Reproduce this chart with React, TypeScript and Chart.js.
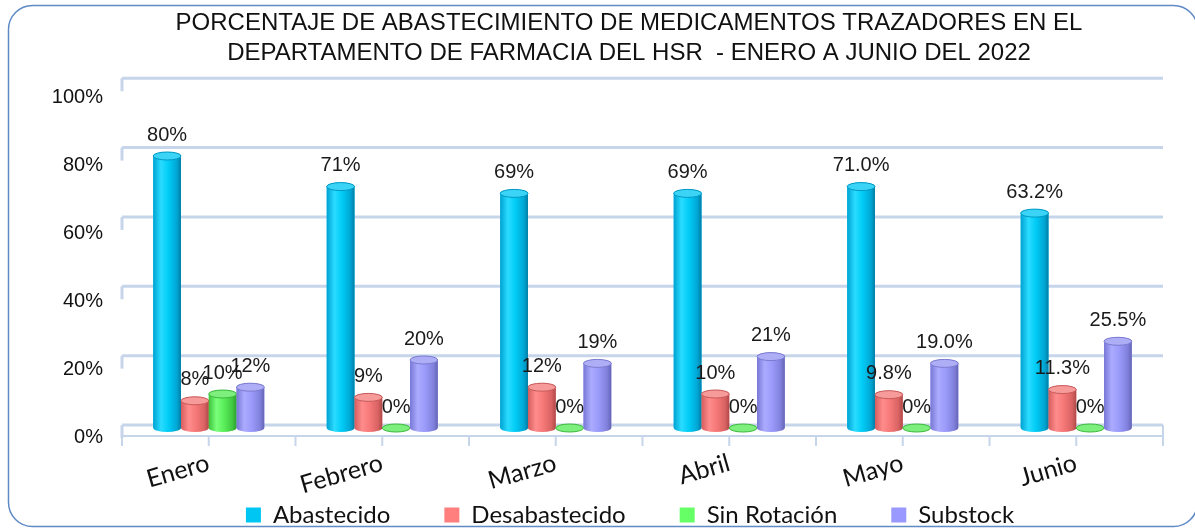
import React, { useEffect, useRef } from "react";
import { Chart, registerables } from "chart.js";

Chart.register(...registerables);

// ---- DATA ----
const categories = ["Enero", "Febrero", "Marzo", "Abril", "Mayo", "Junio"];
const seriesNames = ["Abastecido", "Desabastecido", "Sin Rotación", "Substock"];
const abastecido = [80, 71, 69, 69, 71.0, 63.2];
const desabastecido = [8, 9, 12, 10, 9.8, 11.3];
const sinRotacion = [10, 0, 0, 0, 0, 0];
const substock = [12, 20, 19, 21, 19.0, 25.5];
const abastecidoLabels = ["80%", "71%", "69%", "69%", "71.0%", "63.2%"];
const desabastecidoLabels = ["8%", "9%", "12%", "10%", "9.8%", "11.3%"];
const sinRotacionLabels = ["10%", "0%", "0%", "0%", "0%", "0%"];
const substockLabels = ["12%", "20%", "19%", "21%", "19.0%", "25.5%"];
const yTicks = [0, 20, 40, 60, 80, 100];
const titleLines = [
  "PORCENTAJE DE ABASTECIMIENTO DE MEDICAMENTOS TRAZADORES EN EL",
  "DEPARTAMENTO DE FARMACIA DEL HSR  - ENERO A JUNIO DEL 2022",
];

// ---- STYLE ----
const W = 1195;
const H = 537;
const legendPadding = 54;
const legendFont = 24;
const legendHeight = Math.max(legendFont, 15) + legendPadding + 10;

type Pal = { base: string; stops: string[]; cap: string; capStroke: string };
const palettes: Pal[] = [
  { base: "#00c6f4", stops: ["#00a2d2", "#2adcff", "#00ccf6", "#00a6d4", "#007ea6"], cap: "#3cd4f6", capStroke: "#0098c4" },
  { base: "#ff7f7f", stops: ["#d65c5c", "#ff8c8c", "#f67878", "#d86262", "#b04848"], cap: "#f79a9a", capStroke: "#c85a5a" },
  { base: "#66ff66", stops: ["#3cc23c", "#7aff7a", "#5aee5a", "#40c840", "#2ea02e"], cap: "#7cef7c", capStroke: "#3cb83c" },
  { base: "#9999ff", stops: ["#7878d6", "#ababff", "#9a9afa", "#8080dc", "#6464b4"], cap: "#aeaef6", capStroke: "#7a7ad0" },
];
const valueLabels = [abastecidoLabels, desabastecidoLabels, sinRotacionLabels, substockLabels];

function drawCylinder(ctx: CanvasRenderingContext2D, x: number, top: number, base: number, w: number, p: Pal) {
  const rx = w / 2;
  const ry = 4;
  const left = x - rx;
  if (base - top > 0.5) {
    const g = ctx.createLinearGradient(left, 0, left + w, 0);
    const pos = [0, 0.28, 0.55, 0.85, 1];
    p.stops.forEach((c, i) => g.addColorStop(pos[i], c));
    ctx.beginPath();
    ctx.moveTo(left, top);
    ctx.lineTo(left, base);
    ctx.ellipse(x, base, rx, ry, 0, Math.PI, 0, true);
    ctx.lineTo(left + w, top);
    ctx.ellipse(x, top, rx, ry, 0, 0, Math.PI, true);
    ctx.closePath();
    ctx.fillStyle = g;
    ctx.fill();
  }
  ctx.beginPath();
  ctx.ellipse(x, top, rx, ry, 0, 0, Math.PI * 2);
  ctx.fillStyle = p.cap;
  ctx.fill();
  ctx.lineWidth = 1;
  ctx.strokeStyle = p.capStroke;
  ctx.stroke();
}

// let the axis labels draw outside the (forced) axis boxes
const layoutPlugin = {
  id: "layoutFix",
  afterLayout(chart: any) {
    const xs = chart.scales.x;
    xs.bottom = chart.height;
    xs.height = xs.bottom - xs.top;
    const ys = chart.scales.y;
    ys.left = 0;
    ys.width = ys.right - ys.left;
  },
};

const framePlugin = {
  id: "frame",
  beforeDraw(chart: any) {
    const { ctx, chartArea, scales } = chart;
    const ys = scales.y;
    ctx.save();
    ctx.fillStyle = "#ffffff";
    ctx.fillRect(0, 0, chart.width, chart.height);

    // rounded outer border
    const bx = 8.5, by = 5.5, bw = 1189, bh = 521, r = 24;
    ctx.beginPath();
    ctx.moveTo(bx + r, by);
    ctx.lineTo(bx + bw - r, by);
    ctx.arcTo(bx + bw, by, bx + bw, by + r, r);
    ctx.lineTo(bx + bw, by + bh - r);
    ctx.arcTo(bx + bw, by + bh, bx + bw - r, by + bh, r);
    ctx.lineTo(bx + r, by + bh);
    ctx.arcTo(bx, by + bh, bx, by + bh - r, r);
    ctx.lineTo(bx, by + r);
    ctx.arcTo(bx, by, bx + r, by, r);
    ctx.closePath();
    ctx.strokeStyle = "#5f8ac6";
    ctx.lineWidth = 1.5;
    ctx.stroke();

    // title
    ctx.fillStyle = "#111111";
    ctx.font = '24px "Liberation Sans", Arial, sans-serif';
    ctx.textAlign = "center";
    ctx.textBaseline = "middle";
    ctx.fillText(titleLines[0], 629, 23);
    ctx.fillText(titleLines[1], 629, 53);

    // back wall gridlines
    const y0 = ys.getPixelForValue(0);
    const wallBase = y0 - 3;
    ctx.strokeStyle = "#c6d5ea";
    ctx.lineWidth = 3;
    for (const v of yTicks) {
      const gy = wallBase - (y0 - ys.getPixelForValue(v)) * 1.02;
      ctx.beginPath();
      ctx.moveTo(chartArea.left, gy);
      ctx.lineTo(chartArea.right, gy);
      ctx.stroke();
      ctx.beginPath();
      ctx.moveTo(chartArea.left, gy);
      ctx.lineTo(chartArea.left, gy + 13);
      ctx.stroke();
    }
    // floor front edge and tick marks
    const fy = y0 + 8;
    ctx.lineWidth = 2;
    ctx.beginPath();
    ctx.moveTo(chartArea.left, fy);
    ctx.lineTo(chartArea.right, fy);
    ctx.stroke();
    const n = categories.length * 2;
    const step = (chartArea.right - chartArea.left) / n;
    for (let k = 0; k <= n; k++) {
      const tx = chartArea.left + k * step;
      ctx.beginPath();
      ctx.moveTo(tx, fy);
      ctx.lineTo(tx, fy + 10);
      ctx.stroke();
    }
    ctx.beginPath();
    ctx.moveTo(chartArea.right, wallBase);
    ctx.lineTo(chartArea.right, fy);
    ctx.stroke();
    ctx.restore();
  },
};

const cylinderPlugin = {
  id: "cylinders",
  afterDatasetsDraw(chart: any) {
    const { ctx } = chart;
    ctx.save();
    chart.data.datasets.forEach((_ds: any, i: number) => {
      const meta = chart.getDatasetMeta(i);
      meta.data.forEach((el: any) => {
        const { x, y, base, width } = el.getProps(["x", "y", "base", "width"], true);
        drawCylinder(ctx, x, y, base, width, palettes[i]);
      });
    });
    ctx.fillStyle = "#1a1a1a";
    ctx.font = '20px "Liberation Sans", Arial, sans-serif';
    ctx.textAlign = "center";
    ctx.textBaseline = "middle";
    chart.data.datasets.forEach((_ds: any, i: number) => {
      const meta = chart.getDatasetMeta(i);
      meta.data.forEach((el: any, j: number) => {
        const { x, y } = el.getProps(["x", "y"], true);
        ctx.fillText(valueLabels[i][j], x, y - 21);
      });
    });
    ctx.restore();
  },
};

export default function App() {
  const ref = useRef<HTMLCanvasElement | null>(null);
  useEffect(() => {
    if (!ref.current) return;
    const series = [abastecido, desabastecido, sinRotacion, substock];
    const chart = new Chart(ref.current, {
      type: "bar",
      data: {
        labels: categories,
        datasets: series.map((d, i) => ({
          label: seriesNames[i],
          data: d,
          backgroundColor: palettes[i].base,
          borderWidth: 0,
          categoryPercentage: 0.64,
          barPercentage: 1,
        })),
      },
      options: {
        responsive: false,
        animation: false,
        devicePixelRatio: 1,
        layout: { padding: { top: 88, left: 97, right: 32, bottom: 0 } },
        scales: {
          x: {
            grid: { display: false, drawTicks: false },
            border: { display: false },
            ticks: {
              autoSkip: false,
              minRotation: 16,
              maxRotation: 16,
              padding: 20,
              color: "#111111",
              font: { family: "Lato", size: 25 },
            },
            afterFit: (s: any) => {
              s.height = H - 428 - legendHeight;
            },
          },
          y: {
            min: 0,
            max: 100,
            grid: { display: false, drawTicks: false },
            border: { display: false },
            ticks: {
              stepSize: 20,
              padding: 19,
              labelOffset: 9,
              color: "#111111",
              font: { family: "Liberation Sans", size: 20 },
              callback: (v: any) => v + "%",
            },
            afterFit: (s: any) => {
              s.width = 25;
            },
          },
        },
        plugins: {
          legend: {
            position: "bottom",
            labels: {
              boxWidth: 15,
              boxHeight: 15,
              padding: legendPadding,
              color: "#111111",
              font: { family: "Lato", size: legendFont },
            },
          },
          tooltip: { enabled: false },
          title: { display: false },
        },
      },
      plugins: [layoutPlugin, framePlugin, cylinderPlugin],
    } as any);
    return () => chart.destroy();
  }, []);
  return (
    <div style={{ position: "fixed", left: 0, top: 0, width: W, height: H, background: "#fff" }}>
      <canvas ref={ref} width={W} height={H} style={{ display: "block" }} />
    </div>
  );
}
